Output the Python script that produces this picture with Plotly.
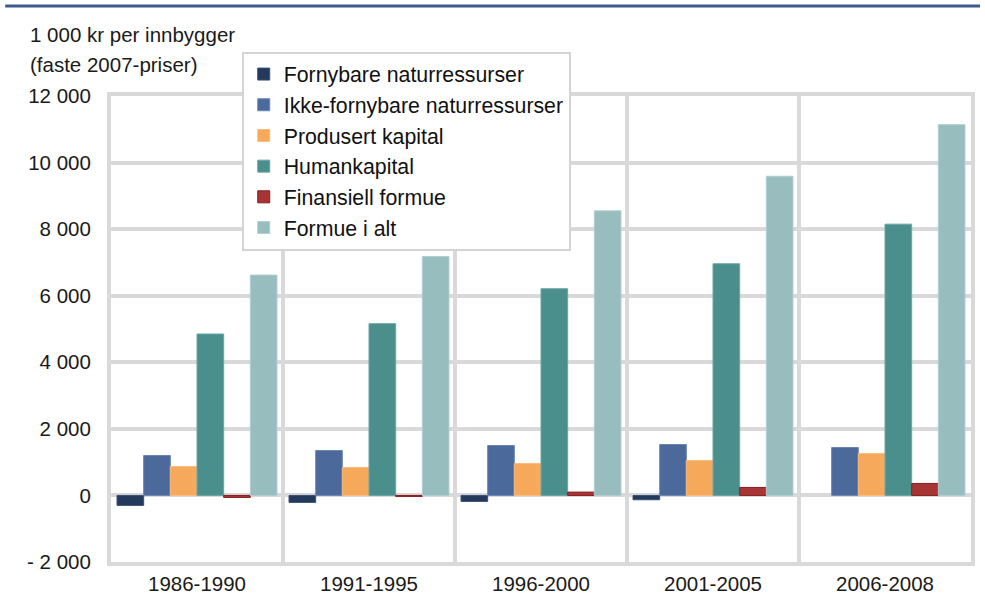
import plotly.graph_objects as go

periods = ["1986-1990", "1991-1995", "1996-2000", "2001-2005", "2006-2008"]

fornybare = [-300, -210, -180, -130, 0]
ikke_fornybare = [1200, 1350, 1500, 1530, 1440]
produsert = [870, 840, 960, 1050, 1260]
human = [4850, 5160, 6210, 6960, 8150]
finansiell = [-60, -30, 100, 240, 360]
formue_i_alt = [6620, 7180, 8550, 9590, 11140]

series_names = [
    "Fornybare naturressurser",
    "Ikke-fornybare naturressurser",
    "Produsert kapital",
    "Humankapital",
    "Finansiell formue",
    "Formue i alt",
]
series_values = [fornybare, ikke_fornybare, produsert, human, finansiell, formue_i_alt]
fill_colors = ["#243a5c", "#4b6a9b", "#f6a95b", "#4b8f8d", "#a73535", "#98bdbe"]
edge_colors = ["#3a5078", "#6a86b2", "#f8bd80", "#6aa5a3", "#8a1c1c", "#b0cfd0"]

y_ticks = [-2000, 0, 2000, 4000, 6000, 8000, 10000, 12000]
y_tick_text = ["- 2 000", "0", "2 000", "4 000", "6 000", "8 000", "10 000", "12 000"]

FONT = "Arial, Liberation Sans, sans-serif"
FS = 20.5

fig = go.Figure()
for i, (name, vals, fc, ec) in enumerate(zip(series_names, series_values, fill_colors, edge_colors)):
    # no outline on zero-height bars
    widths = [0 if v == 0 else 1 for v in vals]
    fig.add_trace(go.Bar(
        x=periods, y=vals, name=name,
        marker=dict(color=fc, line=dict(color=ec, width=widths)),
        legendgroup=f"g{i}",
    ))

fig.update_layout(
    width=985, height=596,
    margin=dict(l=111, r=14, t=96, b=34),
    paper_bgcolor="white", plot_bgcolor="white",
    barmode="group", bargap=0.07, bargroupgap=0,
    font=dict(family=FONT, size=FS, color="#1a1a1a"),
    showlegend=True,
    legend=dict(
        x=0.152, y=1.095, xanchor="left", yanchor="top",
        bgcolor="white", bordercolor="#d4d4d4", borderwidth=2,
        font=dict(family=FONT, size=21.3, color="#111111"),
        tracegroupgap=2, traceorder="normal", itemwidth=30,
    ),
    xaxis=dict(
        tickson="boundaries", ticks="", showgrid=True,
        gridcolor="#d9d9d9", gridwidth=4,
        showline=True, linecolor="#d9d9d9", linewidth=4, mirror=True,
        tickfont=dict(size=FS), ticklabelstandoff=0, fixedrange=True,
        automargin=False,
    ),
    yaxis=dict(
        range=[-2000, 12000], tickvals=y_ticks, ticktext=y_tick_text,
        showgrid=True, gridcolor="#d9d9d9", gridwidth=4,
        zeroline=True, zerolinecolor="#d9d9d9", zerolinewidth=4,
        showline=True, linecolor="#d9d9d9", linewidth=4, mirror=True,
        ticks="", ticklabelstandoff=12, tickfont=dict(size=FS),
        automargin=False,
    ),
    shapes=[dict(
        type="line", xref="paper", yref="paper",
        x0=-0.123, x1=1.0105, y0=1.193, y1=1.193,
        line=dict(color="#3d5a8a", width=3),
    )],
    annotations=[
        dict(text="1 000 kr per innbygger", xref="paper", yref="paper",
             x=-0.0965, y=1.133, xanchor="left", yanchor="middle",
             showarrow=False, font=dict(size=FS)),
        dict(text="(faste 2007-priser)", xref="paper", yref="paper",
             x=-0.0965, y=1.068, xanchor="left", yanchor="middle",
             showarrow=False, font=dict(size=FS)),
    ],
)

fig.write_html("out.html")
